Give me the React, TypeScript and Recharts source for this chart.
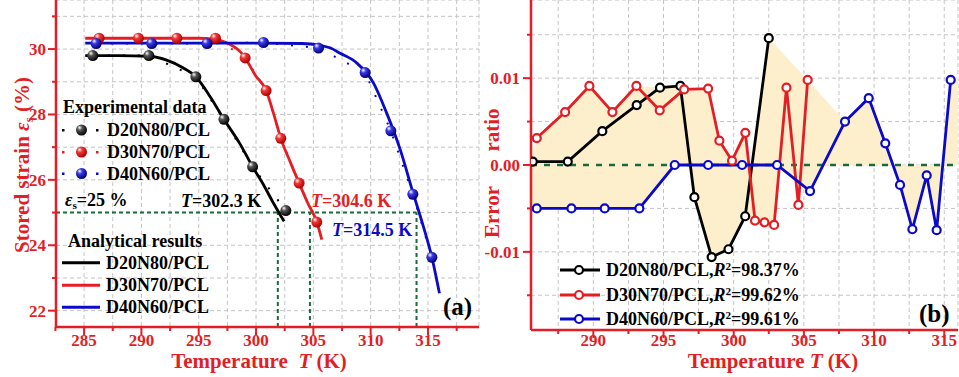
import React from 'react';
import {
  ComposedChart,
  Line,
  Area,
  XAxis,
  YAxis,
  CartesianGrid,
  ReferenceLine,
} from 'recharts';

const RED = '#e31e24';
const BLUE = '#0a0ac8';
const GREEN = '#1b6b3a';
const FILL = '#fdefcb';
const GRID = '#c4c4c4';
const FONT = '"Liberation Serif", "Times New Roman", serif';

// ---- panel (a): stored strain vs temperature ----
const expT20 = [285.76, 290.65, 294.75, 297.2, 299.7, 302.6];
const expS20 = [29.8, 29.8, 29.15, 27.85, 26.4, 25.06];
const expT30 = [286.31, 289.74, 293.09, 296.46, 299.05, 300.88, 302.16, 303.76, 305.3];
const expS30 = [30.33, 30.33, 30.33, 30.33, 29.73, 28.73, 27.27, 25.9, 24.71];
const expT40 = [286.05, 290.9, 295.73, 300.65, 305.45, 309.52, 311.76, 313.68, 315.34];
const expS40 = [30.17, 30.17, 30.17, 30.2, 30.03, 29.28, 27.5, 25.56, 23.63];

const fitT20 = [285.1, 288, 290.65, 292.2, 293.5, 294.75, 296.0, 297.2, 298.6, 299.7, 300.65, 301.5, 302.45];
const fitS20 = [29.8, 29.8, 29.78, 29.66, 29.45, 29.15, 28.54, 27.85, 27.1, 26.4, 25.85, 25.3, 24.73];
const fitT30 = [285.1, 290, 295, 296.3, 297.45, 298.61, 299.05, 299.92, 300.88, 301.52, 302.16, 302.98, 303.76, 304.5, 305.3, 305.74];
const fitS30 = [30.33, 30.33, 30.33, 30.3, 30.19, 29.92, 29.73, 29.21, 28.73, 28.04, 27.27, 26.55, 25.9, 25.3, 24.71, 24.17];
const fitT40 = [285.1, 290, 295, 300, 304, 305.5, 306.5, 307.34, 308.8, 310.25, 311.4, 312.6, 313.7, 314.6, 315.34, 316.0];
const fitS40 = [30.18, 30.18, 30.18, 30.18, 30.17, 30.12, 30.03, 29.87, 29.57, 28.96, 28.04, 26.9, 25.6, 24.57, 23.63, 22.53];

const threshStrain = 25;
const threshT = [301.9, 304.7, 314.0];

const xTicksA = [282.5, 285, 287.5, 290, 292.5, 295, 297.5, 300, 302.5, 305, 307.5, 310, 312.5, 315, 317.5];
const yTicksA = [22, 23, 24, 25, 26, 27, 28, 29, 30, 31];

// ---- panel (b): error ratio ----
const errT20 = [285.69, 288.18, 290.64, 293.09, 294.75, 296.2, 297.2, 298.43, 299.63, 300.82, 302.5];
const errV20 = [0.0004, 0.0004, 0.0039, 0.0069, 0.0089, 0.0091, -0.0037, -0.0106, -0.0097, -0.0059, 0.0146];
const errT30 = [285.97, 287.99, 289.72, 291.36, 293.07, 294.73, 296.47, 298.18, 298.98, 299.88, 300.83, 301.52, 302.19, 302.88, 303.76, 304.61, 305.27];
const errV30 = [0.0031, 0.0061, 0.0091, 0.0061, 0.0091, 0.0063, 0.0087, 0.0088, 0.0028, 0.0005, 0.0037, -0.0064, -0.0066, -0.0069, 0.0089, -0.0046, 0.0098];
const errT40 = [285.97, 288.44, 290.81, 293.28, 295.8, 298.18, 300.6, 303.09, 305.44, 307.93, 309.62, 310.8, 311.85, 312.73, 313.75, 314.46, 315.46];
const errV40 = [-0.005, -0.005, -0.005, -0.005, 0, 0, 0, 0, -0.003, 0.005, 0.0077, 0.0025, -0.0023, -0.0074, -0.0012, -0.0075, 0.0098];

// shaded envelope (upper / lower)
const upT = [285.56, 285.97, 287.99, 289.72, 291.36, 293.07, 294.75, 296.2, 296.47, 298.18, 298.98, 299.88, 300.83, 301.08, 301.3, 302.5, 305.27, 307.93, 309.62, 310.8, 311.4, 314.9, 315.46, 315.98];
const upV = [0.0005, 0.0031, 0.0061, 0.0091, 0.0061, 0.0091, 0.0089, 0.0091, 0.0087, 0.0088, 0.0028, 0.0005, 0.0037, 0, 0, 0.0146, 0.0098, 0.005, 0.0077, 0.0025, 0, 0, 0.0098, 0.0102];
const loT = [285.56, 293.28, 295.8, 296.91, 297.2, 298.43, 299.63, 300.82, 301.52, 302.19, 302.88, 303.28, 304.32, 304.61, 304.8, 305.44, 306.37, 311.4, 311.85, 312.73, 313.75, 314.46, 314.9, 315.98];
const loV = [-0.005, -0.005, 0, 0, -0.0037, -0.0106, -0.0097, -0.0059, -0.0064, -0.0066, -0.0069, -0.0003, -0.0016, -0.0046, -0.0023, -0.003, 0, 0, -0.0023, -0.0074, -0.0012, -0.0075, 0, 0];

const xTicksB = [287.5, 290, 292.5, 295, 297.5, 300, 302.5, 305, 307.5, 310, 312.5, 315];
const yTicksB = [-0.015, -0.01, -0.005, 0, 0.005, 0.01, 0.015];

const pts = (t: number[], v: number[]) => t.map((x, i) => ({ t: x, v: v[i] }));

const near = (a: number, b: number) => Math.abs(a - b) < 1e-6;

const bottomTick = (isMajor: (v: number) => boolean, off: number) => (p: any) => {
  const v = p.payload.value;
  const major = isMajor(v);
  return (
    <g key={`bt-${v}`}>
      <line x1={p.x} x2={p.x} y1={p.y} y2={p.y + (major ? 8 : 4)} stroke={RED} strokeWidth={2} />
      {major && (
        <text x={p.x} y={p.y + off} textAnchor="middle" fill={RED} fontSize={17} fontWeight="bold" fontFamily={FONT}>
          {v}
        </text>
      )}
    </g>
  );
};

const leftTick = (isMajor: (v: number) => boolean, fmt: (v: number) => string, gap: number) => (p: any) => {
  const v = p.payload.value;
  const major = isMajor(v);
  return (
    <g key={`lt-${v}`}>
      <line x1={p.x - (major ? 8 : 4)} x2={p.x} y1={p.y} y2={p.y} stroke={RED} strokeWidth={2} />
      {major && (
        <text x={p.x - gap} y={p.y + 6} textAnchor="end" fill={RED} fontSize={17} fontWeight="bold" fontFamily={FONT}>
          {fmt(v)}
        </text>
      )}
    </g>
  );
};

const topTick = (p: any) => (
  <line key={`tt-${p.payload.value}`} x1={p.x} x2={p.x} y1={p.y} y2={p.y + 7} stroke={BLUE} strokeWidth={2} />
);

const rightTick = (p: any) => (
  <line key={`rt-${p.payload.value}`} x1={p.x - 7} x2={p.x} y1={p.y} y2={p.y} stroke={BLUE} strokeWidth={2} />
);

const sphere = (id: string) => (p: any) => (
  <circle key={`${id}-${p.index}`} cx={p.cx} cy={p.cy} r={5.5} fill={`url(#${id})`} />
);

const Grad = ({ id, mid, edge }: { id: string; mid: string; edge: string }) => (
  <radialGradient id={id} cx="38%" cy="35%" r="65%" fx="32%" fy="28%">
    <stop offset="0%" stopColor="#ffffff" />
    <stop offset="35%" stopColor={mid} />
    <stop offset="100%" stopColor={edge} />
  </radialGradient>
);

const Txt = ({ x, y, size = 18, color = '#000', children }: any) => (
  <div
    style={{
      position: 'absolute',
      left: x,
      top: y,
      transform: 'translateY(-50%)',
      fontSize: size,
      lineHeight: 1,
      fontWeight: 'bold',
      color,
      fontFamily: FONT,
      whiteSpace: 'nowrap',
    }}
  >
    {children}
  </div>
);

const CTxt = ({ x, y, size = 21, color = RED, rotate = false, children }: any) => (
  <div
    style={{
      position: 'absolute',
      left: x,
      top: y,
      transform: `translate(-50%, -50%)${rotate ? ' rotate(-90deg)' : ''}`,
      fontSize: size,
      lineHeight: 1,
      fontWeight: 'bold',
      color,
      fontFamily: FONT,
      whiteSpace: 'nowrap',
    }}
  >
    {children}
  </div>
);

const Sub = ({ children }: any) => (
  <span style={{ fontSize: '0.62em', position: 'relative', top: '0.3em' }}>{children}</span>
);
const Sup = ({ children }: any) => (
  <span style={{ fontSize: '0.62em', position: 'relative', top: '-0.55em' }}>{children}</span>
);

const legB = [
  { color: '#000', name: 'D20N80/PCL', r2: '98.37%', y: 270 },
  { color: RED, name: 'D30N70/PCL', r2: '99.62%', y: 295 },
  { color: BLUE, name: 'D40N60/PCL', r2: '99.61%', y: 319 },
];

const App: React.FC = () => {
  return (
    <div style={{ position: 'absolute', left: 0, top: 0, width: 959, height: 377, background: '#fff', overflow: 'hidden' }}>
      {/* (a) stored strain */}
      <div style={{ position: 'absolute', left: 0, top: 0 }}>
        <ComposedChart width={480} height={377} margin={{ top: 0, right: 1, bottom: 0, left: 0 }}>
          <defs>
            <Grad id="sphK" mid="#555555" edge="#000000" />
            <Grad id="sphR" mid="#f03a3a" edge="#b00000" />
            <Grad id="sphB" mid="#3a3ae6" edge="#00007a" />
          </defs>
          <CartesianGrid stroke={GRID} strokeDasharray="4 3" />
          <XAxis
            dataKey="t"
            type="number"
            domain={[282.55, 319.45]}
            ticks={xTicksA}
            interval={0}
            allowDataOverflow
            height={50}
            tickSize={0}
            tickMargin={0}
            tickLine={false}
            axisLine={{ stroke: RED, strokeWidth: 2.5 }}
            tick={bottomTick((v) => near(v / 5, Math.round(v / 5)), 19)}
          />
          <XAxis
            xAxisId="top"
            orientation="top"
            dataKey="t"
            type="number"
            domain={[282.55, 319.45]}
            ticks={xTicksA}
            interval={0}
            allowDataOverflow
            height={0}
            tickSize={0}
            tickMargin={0}
            tickLine={false}
            axisLine={{ stroke: BLUE, strokeWidth: 2.5 }}
            tick={topTick}
          />
          <YAxis
            type="number"
            domain={[21.5, 31.5]}
            ticks={yTicksA}
            interval={0}
            allowDataOverflow
            width={56}
            tickSize={0}
            tickMargin={0}
            tickLine={false}
            axisLine={{ stroke: RED, strokeWidth: 2.5 }}
            tick={leftTick((v) => v % 2 === 0, (v) => String(v), 10)}
          />
          <YAxis
            yAxisId="r"
            orientation="right"
            type="number"
            domain={[21.5, 31.5]}
            ticks={yTicksA}
            interval={0}
            allowDataOverflow
            width={0}
            tickSize={0}
            tickMargin={0}
            tickLine={false}
            axisLine={{ stroke: BLUE, strokeWidth: 2.5 }}
            tick={rightTick}
          />
          <ReferenceLine
            segment={[{ x: 282.55, y: threshStrain }, { x: threshT[2], y: threshStrain }]}
            stroke={GREEN}
            strokeWidth={2}
            strokeDasharray="4 3"
          />
          {threshT.map((t) => (
            <ReferenceLine
              key={t}
              segment={[{ x: t, y: 21.5 }, { x: t, y: threshStrain }]}
              stroke={GREEN}
              strokeWidth={2}
              strokeDasharray="4 3"
            />
          ))}
          <Line data={pts(fitT20, fitS20)} dataKey="v" type="monotone" stroke="#000" strokeWidth={2.8} dot={false} isAnimationActive={false} />
          <Line data={pts(fitT30, fitS30)} dataKey="v" type="monotone" stroke={RED} strokeWidth={2.8} dot={false} isAnimationActive={false} />
          <Line data={pts(fitT40, fitS40)} dataKey="v" type="monotone" stroke={BLUE} strokeWidth={2.8} dot={false} isAnimationActive={false} />
          <Line data={pts(expT20, expS20)} dataKey="v" type="linear" stroke="#000" strokeWidth={2} strokeDasharray="2 13" dot={sphere('sphK')} isAnimationActive={false} />
          <Line data={pts(expT30, expS30)} dataKey="v" type="linear" stroke={RED} strokeWidth={2} strokeDasharray="2 13" dot={sphere('sphR')} isAnimationActive={false} />
          <Line data={pts(expT40, expS40)} dataKey="v" type="linear" stroke={BLUE} strokeWidth={2} strokeDasharray="2 13" dot={sphere('sphB')} isAnimationActive={false} />
        </ComposedChart>
      </div>

      {/* (b) error ratio */}
      <div style={{ position: 'absolute', left: 480, top: 0 }}>
        <ComposedChart width={479} height={377} margin={{ top: 0, right: 1, bottom: 0, left: 0 }}>
          <CartesianGrid stroke={GRID} strokeDasharray="4 3" />
          <XAxis
            dataKey="t"
            type="number"
            domain={[285.56, 315.98]}
            ticks={xTicksB}
            interval={0}
            allowDataOverflow
            height={47}
            tickSize={0}
            tickMargin={0}
            tickLine={false}
            axisLine={{ stroke: RED, strokeWidth: 2.5 }}
            tick={bottomTick((v) => near(v / 5, Math.round(v / 5)), 16)}
          />
          <XAxis
            xAxisId="top"
            orientation="top"
            dataKey="t"
            type="number"
            domain={[285.56, 315.98]}
            ticks={xTicksB}
            interval={0}
            allowDataOverflow
            height={0}
            tickSize={0}
            tickMargin={0}
            tickLine={false}
            axisLine={{ stroke: BLUE, strokeWidth: 2.5 }}
            tick={topTick}
          />
          <YAxis
            type="number"
            domain={[-0.019, 0.019]}
            ticks={yTicksB}
            interval={0}
            allowDataOverflow
            width={51}
            tickSize={0}
            tickMargin={0}
            tickLine={false}
            axisLine={{ stroke: RED, strokeWidth: 2.5 }}
            tick={leftTick((v) => near(v * 100, Math.round(v * 100)), (v) => v.toFixed(2), 11)}
          />
          <YAxis
            yAxisId="r"
            orientation="right"
            type="number"
            domain={[-0.019, 0.019]}
            ticks={yTicksB}
            interval={0}
            allowDataOverflow
            width={0}
            tickSize={0}
            tickMargin={0}
            tickLine={false}
            axisLine={{ stroke: BLUE, strokeWidth: 2.5 }}
            tick={rightTick}
          />
          <Area data={pts(upT, upV)} dataKey="v" type="linear" baseValue={0} stroke="none" fill={FILL} fillOpacity={1} isAnimationActive={false} />
          <Area data={pts(loT, loV)} dataKey="v" type="linear" baseValue={0} stroke="none" fill={FILL} fillOpacity={1} isAnimationActive={false} />
          <ReferenceLine y={0} stroke={GREEN} strokeWidth={2.5} strokeDasharray="6 7" />
          <Line data={pts(errT20, errV20)} dataKey="v" type="linear" stroke="#000" strokeWidth={2.8} dot={{ r: 4, fill: '#fff', stroke: '#000', strokeWidth: 2.2 }} isAnimationActive={false} />
          <Line data={pts(errT30, errV30)} dataKey="v" type="linear" stroke={RED} strokeWidth={2.8} dot={{ r: 4, fill: '#fff', stroke: RED, strokeWidth: 2.2 }} isAnimationActive={false} />
          <Line data={pts(errT40, errV40)} dataKey="v" type="linear" stroke={BLUE} strokeWidth={2.8} dot={{ r: 4, fill: '#fff', stroke: BLUE, strokeWidth: 2.2 }} isAnimationActive={false} />
        </ComposedChart>
      </div>

      {/* legend graphics */}
      <svg width={959} height={377} style={{ position: 'absolute', left: 0, top: 0, pointerEvents: 'none' }}>
        <defs>
          <Grad id="lgK" mid="#555555" edge="#000000" />
          <Grad id="lgR" mid="#f03a3a" edge="#b00000" />
          <Grad id="lgB" mid="#3a3ae6" edge="#00007a" />
        </defs>
        {[
          { g: 'lgK', c: '#000', y: 130 },
          { g: 'lgR', c: RED, y: 152 },
          { g: 'lgB', c: BLUE, y: 173.5 },
        ].map((r) => (
          <g key={r.g}>
            <rect x={62} y={r.y - 1} width={2.5} height={2.5} fill={r.c} />
            <rect x={96} y={r.y - 1} width={2.5} height={2.5} fill={r.c} />
            <circle cx={81.5} cy={r.y} r={5.5} fill={`url(#${r.g})`} />
          </g>
        ))}
        {[
          { c: '#000', y: 262.7 },
          { c: RED, y: 285.3 },
          { c: BLUE, y: 307.3 },
        ].map((r) => (
          <line key={r.y} x1={62} x2={100} y1={r.y} y2={r.y} stroke={r.c} strokeWidth={3} />
        ))}
        {legB.map((r) => (
          <g key={r.name}>
            <line x1={560} x2={600} y1={r.y} y2={r.y} stroke={r.color} strokeWidth={3} />
            <circle cx={579} cy={r.y} r={4} fill="#fff" stroke={r.color} strokeWidth={2.2} />
          </g>
        ))}
      </svg>

      {/* panel (a) texts */}
      <CTxt x={22} y={165} rotate>
        Stored strain <i>ε</i><Sub>s</Sub> (%)
      </CTxt>
      <CTxt x={259} y={361}>
        Temperature&nbsp;&nbsp;<i>T</i> (K)
      </CTxt>
      <Txt x={63} y={107}>Experimental data</Txt>
      <Txt x={107} y={130}>D20N80/PCL</Txt>
      <Txt x={107} y={152}>D30N70/PCL</Txt>
      <Txt x={107} y={173.5}>D40N60/PCL</Txt>
      <Txt x={65} y={200}>
        <i>ε</i><Sub>s</Sub>=25 %
      </Txt>
      <Txt x={181} y={200.5}>
        <i>T</i>=302.3 K
      </Txt>
      <Txt x={311} y={200.5} color={RED}>
        <i>T</i>=304.6 K
      </Txt>
      <Txt x={332} y={230} color={BLUE}>
        <i>T</i>=314.5 K
      </Txt>
      <Txt x={68} y={240.7}>Analytical results</Txt>
      <Txt x={106} y={262.7}>D20N80/PCL</Txt>
      <Txt x={106} y={285.3}>D30N70/PCL</Txt>
      <Txt x={106} y={307.3}>D40N60/PCL</Txt>
      <Txt x={443} y={306} size={25}>(a)</Txt>

      {/* panel (b) texts */}
      <CTxt x={492} y={130} rotate>ratio</CTxt>
      <CTxt x={492} y={212} rotate>Error</CTxt>
      <CTxt x={773} y={361}>
        Temperature <i>T</i> (K)
      </CTxt>
      {legB.map((r) => (
        <Txt key={r.name} x={606} y={r.y}>
          {r.name},<i>R</i>
          <Sup>2</Sup>={r.r2}
        </Txt>
      ))}
      <Txt x={919} y={312.7} size={25}>(b)</Txt>
    </div>
  );
};

export default App;
